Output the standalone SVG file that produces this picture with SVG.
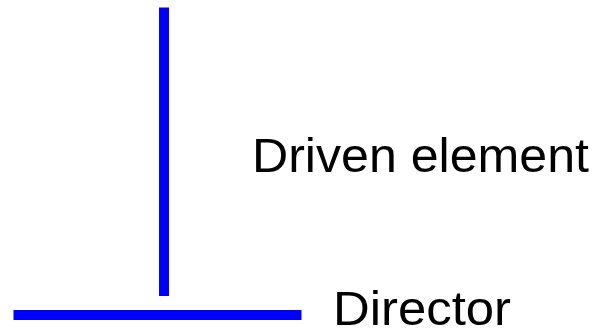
<svg xmlns="http://www.w3.org/2000/svg" width="598" height="332" viewBox="0 0 598 332">
<style>
.el{stroke:#0000ff;stroke-width:10;fill:none}
.lbl{font-family:"Liberation Sans",Arial,sans-serif;font-size:48px;fill:#000}
</style>
<rect width="598" height="332" fill="#fff"/>
<g id="connectors"></g>
<g id="driven">
<line class="el" x1="164" y1="7.5" x2="164" y2="296"/>
<text class="lbl" x="252" y="172" textLength="337" lengthAdjust="spacingAndGlyphs">Driven element</text>
</g>
<g id="director">
<line class="el" x1="13.5" y1="315" x2="301.5" y2="315"/>
<text class="lbl" x="333" y="324.5" textLength="178" lengthAdjust="spacingAndGlyphs">Director</text>
</g>
</svg>
